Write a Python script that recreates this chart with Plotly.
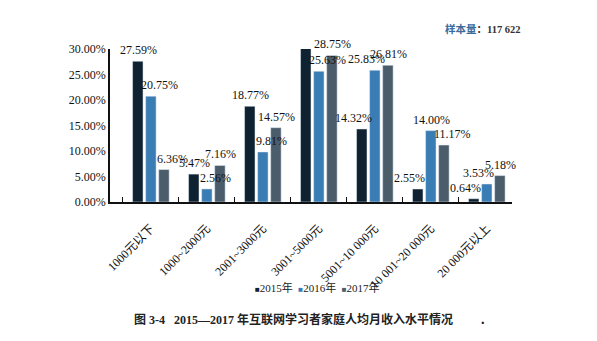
import plotly.graph_objects as go

categories = ["1000元以下", "1000~2000元", "2001~3000元", "3001~5000元",
              "5001~10 000元", "10 001~20 000元", "20 000元以上"]
years = ["2015年", "2016年", "2017年"]
v2015 = [27.59, 5.47, 18.77, 30.66, 14.32, 2.55, 0.64]
v2016 = [20.75, 2.56, 9.81, 25.63, 25.83, 14.00, 3.53]
v2017 = [6.36, 7.16, 14.57, 28.75, 26.81, 11.17, 5.18]
colors = ["#0f2231", "#3a7db5", "#4b5d6b"]
y_ticks = [0, 5, 10, 15, 20, 25, 30]
y_ticktext = [f"{v:.2f}%" for v in y_ticks]

SERIF = "Liberation Serif, Noto Sans CJK SC, serif"
BARGAP = 0.3
series = [v2015, v2016, v2017]

fig = go.Figure()
for name, vals, col in zip(years, series, colors):
    fig.add_trace(go.Bar(
        x=categories, y=vals, name=name, marker_color=col,
        showlegend=False, hoverinfo="x+y+name",
    ))

# value labels drawn above the bars; nudged away from a taller neighbouring bar
slot = (1 - BARGAP) / len(series)
for s, vals in enumerate(series):
    off = (s - (len(series) - 1) / 2) * slot
    for i, v in enumerate(vals):
        left = series[s - 1][i] if s > 0 else None
        right = series[s + 1][i] if s < len(series) - 1 else None
        if left is not None and left > v:
            dx = 9
        elif right is not None and right > v:
            dx = -8
        else:
            dx = 1
        fig.add_annotation(
            x=i + off, y=v, text=f"{v:.2f}%", showarrow=False,
            xanchor="center", yanchor="bottom", yshift=2, xshift=dx,
            font=dict(family=SERIF, size=12, color="#111"),
        )

fig.update_layout(
    width=597, height=341,
    margin=dict(l=110, r=85, t=49, b=139),
    paper_bgcolor="white", plot_bgcolor="white",
    barmode="group", bargap=BARGAP, bargroupgap=0.2,
    font=dict(family=SERIF, size=12, color="#111"),
    showlegend=False,
)
fig.update_xaxes(
    range=[-0.73, 6.45], showline=True, linecolor="#111", linewidth=1.5,
    ticks="inside", ticklen=5, tickcolor="#111", tickson="boundaries",
    tickangle=-45, tickfont=dict(family=SERIF, size=12, color="#111"),
    ticklabelstandoff=13,
    showgrid=False, zeroline=False,
)
fig.update_yaxes(
    range=[0, 30], tickvals=y_ticks, ticktext=y_ticktext,
    showline=True, linecolor="#111", linewidth=1.5, showgrid=False, zeroline=False,
    ticks="", tickfont=dict(family=SERIF, size=12, color="#111"),
)

# legend drawn as text with coloured squares
legend_html = "&nbsp;&nbsp;".join(
    f"<span style='color:{c};font-size:8px'>■</span>{y}" for y, c in zip(years, colors)
)
fig.add_annotation(
    text=legend_html, xref="paper", yref="paper", x=0.516, y=-0.562,
    xanchor="center", yanchor="middle", showarrow=False,
    font=dict(family=SERIF, size=11, color="#222"),
)
fig.add_annotation(
    text="<b>图 3-4   2015—2017 年互联网学习者家庭人均月收入水平情况</b>",
    xref="paper", yref="paper", x=0.055, y=-0.771, xanchor="left", yanchor="middle",
    showarrow=False, font=dict(family=SERIF, size=12, color="#222"),
)
fig.add_annotation(
    text="<b>.</b>", xref="paper", yref="paper", x=0.928, y=-0.77,
    xanchor="center", yanchor="middle", showarrow=False,
    font=dict(family=SERIF, size=14, color="#111"),
)
fig.add_annotation(
    text="<b><span style='color:#3a6c9c'>样本量</span>：117 622</b>",
    xref="paper", yref="paper", x=(443 - 110) / 402, y=1.13,
    xanchor="left", yanchor="middle", showarrow=False,
    font=dict(family=SERIF, size=10.5, color="#333"),
)

fig.write_html("out.html")
